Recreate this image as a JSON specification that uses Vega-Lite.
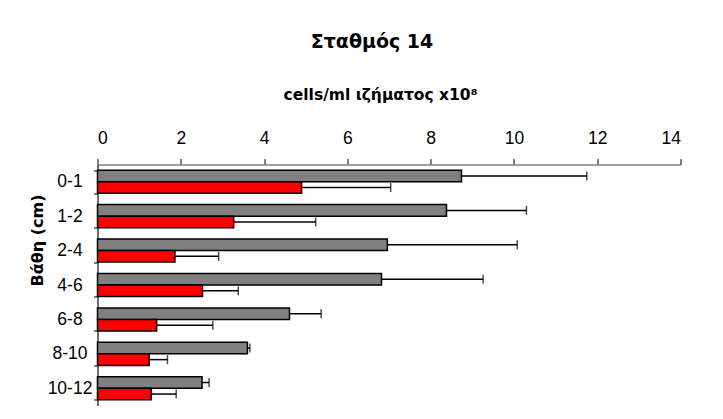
{
  "$schema": "https://vega.github.io/schema/vega-lite/v6.json",
  "width": 583,
  "height": 241,
  "autosize": {"type": "none"},
  "padding": {"left": 97.5, "top": 164.5, "right": 42.5, "bottom": 13.5},
  "background": "white",
  "title": {"text": "Σταθμός 14", "font": "DejaVu Sans", "fontSize": 19, "fontWeight": "bold", "color": "black", "frame": "group", "anchor": "middle", "dx": -17, "offset": 36},
  "config": {"view": {"stroke": null}, "font": "Liberation Sans"},
  "data": {"values": [
    {"depth": "0-1", "series": "Σειρά 1", "value": 8.74, "hi": 11.75},
    {"depth": "0-1", "series": "Σειρά 2", "value": 4.90, "hi": 7.04},
    {"depth": "1-2", "series": "Σειρά 1", "value": 8.38, "hi": 10.30},
    {"depth": "1-2", "series": "Σειρά 2", "value": 3.27, "hi": 5.24},
    {"depth": "2-4", "series": "Σειρά 1", "value": 6.96, "hi": 10.08},
    {"depth": "2-4", "series": "Σειρά 2", "value": 1.86, "hi": 2.91},
    {"depth": "4-6", "series": "Σειρά 1", "value": 6.82, "hi": 9.26},
    {"depth": "4-6", "series": "Σειρά 2", "value": 2.52, "hi": 3.38},
    {"depth": "6-8", "series": "Σειρά 1", "value": 4.61, "hi": 5.37},
    {"depth": "6-8", "series": "Σειρά 2", "value": 1.42, "hi": 2.77},
    {"depth": "8-10", "series": "Σειρά 1", "value": 3.60, "hi": 3.66},
    {"depth": "8-10", "series": "Σειρά 2", "value": 1.24, "hi": 1.68},
    {"depth": "10-12", "series": "Σειρά 1", "value": 2.51, "hi": 2.68},
    {"depth": "10-12", "series": "Σειρά 2", "value": 1.29, "hi": 1.89}
  ]},
  "encoding": {
    "y": {
      "field": "depth", "type": "nominal",
      "sort": ["0-1", "1-2", "2-4", "4-6", "6-8", "8-10", "10-12"],
      "scale": {"paddingInner": 0.33, "paddingOuter": 0.165},
      "axis": {
        "orient": "left", "tickBand": "extent", "tickSize": 4, "tickColor": "black", "domainColor": "#404040", "domainWidth": 1.5,
        "labelAlign": "center", "labelPadding": 24, "labelFont": "Liberation Sans", "labelFontSize": 17.5, "labelColor": "black",
        "title": "Βάθη (cm)", "titleFont": "DejaVu Sans", "titleFontSize": 16, "titleFontWeight": "bold", "titleColor": "black",
        "titleX": -52, "titleY": 75.5, "titleAlign": "center"
      }
    },
    "yOffset": {"field": "series", "type": "nominal", "sort": ["Σειρά 1", "Σειρά 2"], "scale": {"paddingInner": 0, "paddingOuter": 0}}
  },
  "layer": [
    {
      "mark": {"type": "bar", "stroke": "black", "strokeWidth": 1.5},
      "encoding": {
        "x": {
          "field": "value", "type": "quantitative",
          "scale": {"domain": [0, 14], "nice": false, "zero": true},
          "axis": {
            "orient": "top", "values": [0, 2, 4, 6, 8, 10, 12, 14], "grid": false,
            "tickSize": 6, "tickColor": "black", "domainColor": "#808080", "domainWidth": 1.5,
            "labelFont": "Liberation Sans", "labelFontSize": 17.5, "labelColor": "black", "labelPadding": 11,
            "title": "cells/ml ιζήματος x10⁸", "titleFont": "DejaVu Sans", "titleFontSize": 15.5, "titleFontWeight": "bold", "titleColor": "black",
            "titleX": 282.5, "titleY": -62, "titleAlign": "center"
          }
        },
        "color": {"field": "series", "type": "nominal", "scale": {"domain": ["Σειρά 1", "Σειρά 2"], "range": ["#808080", "#FF0000"]}, "legend": null}
      }
    },
    {
      "mark": {"type": "rule", "color": "black", "strokeWidth": 1.5},
      "encoding": {
        "x": {"field": "value", "type": "quantitative"},
        "x2": {"field": "hi"}
      }
    },
    {
      "mark": {"type": "tick", "orient": "vertical", "color": "black", "thickness": 1.5, "size": 9},
      "encoding": {
        "x": {"field": "hi", "type": "quantitative"}
      }
    }
  ]
}
